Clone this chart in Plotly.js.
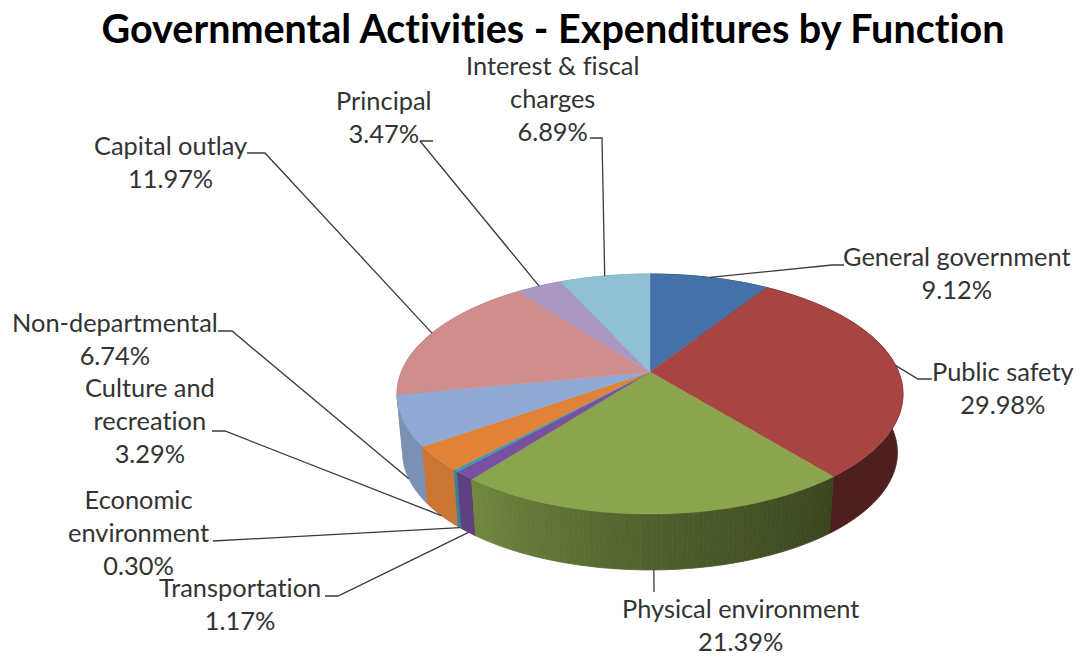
<!DOCTYPE html>
<html>
<head>
<meta charset="utf-8">
<script src="https://cdn.plot.ly/plotly-3.0.1.min.js"></script>
<style>html,body{margin:0;padding:0;background:#fff}#chart{width:1076px;height:656px}text{font-variant-ligatures:none;font-feature-settings:"liga" 0}</style>
</head>
<body>
<div id="chart"></div>
<script>
// ---- data ----
const categories = ["General government","Public safety","Physical environment","Transportation","Economic environment","Culture and recreation","Non-departmental","Capital outlay","Principal","Interest & fiscal charges"];
// the percentages printed on the labels
const labelPercents = ["9.12%","29.98%","21.39%","1.17%","0.30%","3.29%","6.74%","11.97%","3.47%","6.89%"];
// the share of the circle each slice actually covers in the picture
const sliceShares = [9.12,29.98,21.39,1.17,0.30,3.29,6.74,17.65,3.47,6.89];

// ---- styles and layout ----
const topColors = ["#4472a8","#a84442","#8aa54d","#7750a0","#3f9ab0","#e08238","#8fa9d4","#cf8e8d","#a898c2","#90c0d4"];
const wallShade = [0.5,0.46,null,0.8,0.85,0.9,0.86,0.8,0.8,0.8];
const labelText = ["General government","Public safety","Physical environment","Transportation","Economic<br>environment","Culture and<br>recreation","Non-departmental","Capital outlay","Principal","Interest & fiscal<br>charges"];
const labelX = [957,1003,740,240,138,150,115,170,384,552];
const labelY = [272,387,624,603,532,420,338,161,116,98];
const elbowX = [[832,844],[918,932],[654,654],[338,325],[213,213],[225,212],[232,218],[265,247],[420,433],[602,590]];
const elbowY = [[265,265],[379,379],[592,592],[596,596],[541,541],[431,431],[331,331],[153,153],[141,141],[138,138]];
const useLowerRim = [false,false,true,true,true,true,true,false,false,false];

// pie geometry: a tilted disc seen in perspective
const geo = {cx:650, cy:372, R:248.7, S:116, p:0.1834, lowerY:431, lowerScale:0.978};
function project(deg, lower){
  const t = deg*Math.PI/180, u = Math.sin(t), v = -Math.cos(t), w = 1 - geo.p*v;
  const k = lower ? geo.lowerScale : 1, cy = lower ? geo.lowerY : geo.cy;
  return [geo.cx + k*geo.R*u/w, cy + k*geo.S*v/w];
}
function shade(hex, f){
  const n = parseInt(hex.slice(1),16);
  return `rgb(${Math.round((n>>16&255)*f)},${Math.round((n>>8&255)*f)},${Math.round((n&255)*f)})`;
}
function greenShade(deg){
  if (deg >= 180) return 0.58 + (deg-180)/37.8*0.24;
  return 0.42 + Math.max(0,deg-141)/39*0.16;
}
function wallPiece(d0, d1, col){
  const n = Math.max(1, Math.ceil(d1-d0)), top = [], low = [];
  for (let j=0;j<=n;j++){
    const d = d0+(d1-d0)*j/n;
    top.push(project(d,false)); low.push(project(d,true));
  }
  const pts = top.concat(low.reverse(), [top[0]]);
  traces.push({type:"scatter",mode:"lines",x:pts.map(q=>q[0]),y:pts.map(q=>q[1]),fill:"toself",
    fillcolor:col,line:{color:col,width:0.8,simplify:false},hoverinfo:"skip",showlegend:false});
}

const total = sliceShares.reduce((a,b)=>a+b,0);
const traces = [];
let acc = 0;
const spans = sliceShares.map(s => { const a = acc/total*360; acc += s; return [a, acc/total*360]; });

// side walls first (farthest first), then the top faces over them
const wallOrder = spans.map((s,i)=>i).sort((i,j)=>{
  const mid = k => -Math.cos((spans[k][0]+spans[k][1])/2*Math.PI/180);
  return mid(i)-mid(j);
});
wallOrder.forEach(i => {
  const [a,b] = spans[i];
  if (wallShade[i] !== null) { wallPiece(a,b,shade(topColors[i],wallShade[i])); return; }
  for (let d=a; d<b; d+=1) {
    const e = Math.min(b,d+1);
    wallPiece(d,e,shade(topColors[i],greenShade((d+e)/2)));
  }
});
spans.forEach(([a,b],i) => {
  const xs=[geo.cx], ys=[geo.cy];
  const n = Math.max(2, Math.ceil(b-a));
  for (let j=0;j<=n;j++){ const q = project(a+(b-a)*j/n,false); xs.push(q[0]); ys.push(q[1]); }
  xs.push(geo.cx); ys.push(geo.cy);
  traces.push({type:"scatter",mode:"lines",x:xs,y:ys,fill:"toself",fillcolor:topColors[i],
    line:{color:topColors[i],width:0.5},name:categories[i],text:labelPercents[i],hoverinfo:"name+text",showlegend:false});
});
// leader lines start at the rim, at the middle of each slice
spans.forEach(([a,b],i) => {
  const s = project((a+b)/2,useLowerRim[i]);
  traces.push({type:"scatter",mode:"lines",x:[s[0],...elbowX[i]],y:[s[1],...elbowY[i]],
    line:{color:"#3a3a3a",width:1.3},hoverinfo:"skip",showlegend:false});
});

const annotations = categories.map((c,i)=>({
  xref:"x",yref:"y",x:labelX[i],y:labelY[i],xanchor:"center",yanchor:"middle",align:"center",showarrow:false,
  text:labelText[i]+"<br>"+labelPercents[i],font:{family:"Lato, 'Open Sans', sans-serif",size:25.4,color:"#333333"}
}));

const layout = {
  width:1076,height:656,margin:{l:0,r:0,t:0,b:0,pad:0},paper_bgcolor:"#fff",plot_bgcolor:"#fff",showlegend:false,
  title:{text:"<b>Governmental Activities - Expenditures by Function</b>",x:553/1076,xanchor:"center",y:1-29/656,yanchor:"middle",
    font:{family:"Lato, 'Open Sans', sans-serif",size:39.5,color:"#000"}},
  xaxis:{range:[0,1076],visible:false,fixedrange:true},
  yaxis:{range:[656,0],visible:false,fixedrange:true},
  annotations
};
Plotly.newPlot("chart",traces,layout,{displayModeBar:false,responsive:false});
</script>
</body>
</html>
